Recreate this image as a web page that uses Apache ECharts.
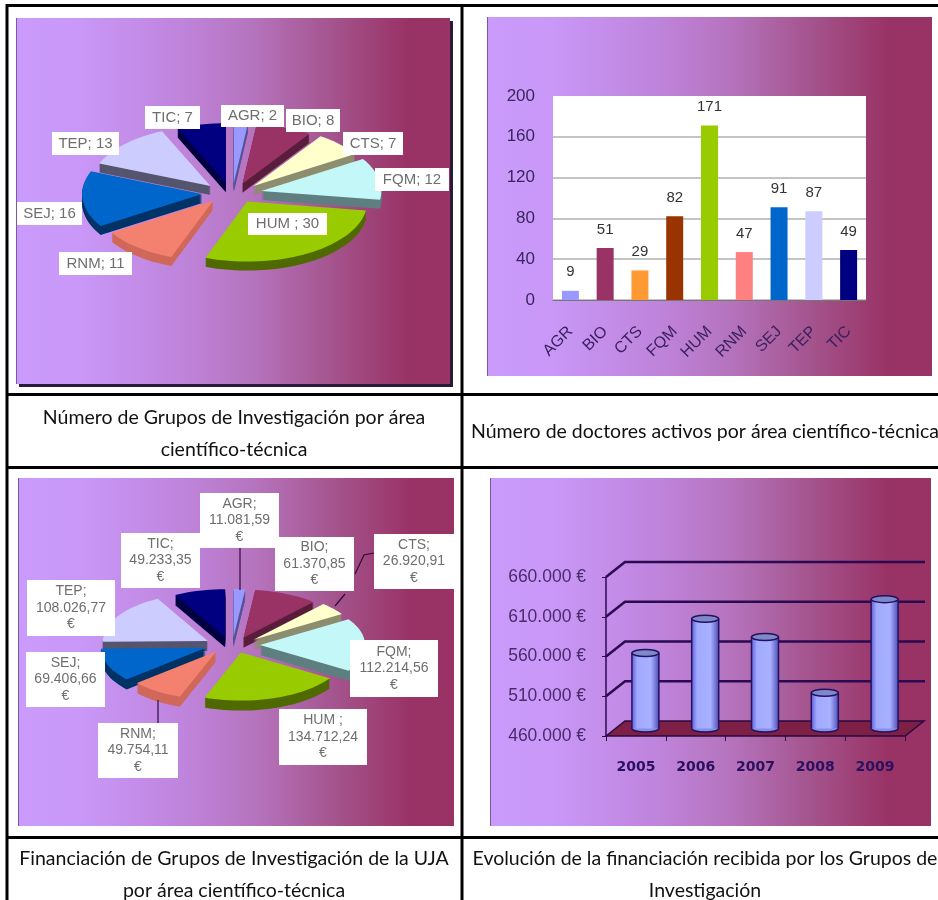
<!DOCTYPE html>
<html><head><meta charset="utf-8">
<style>html,body{margin:0;padding:0;background:#fff}#c{width:938px;height:900px}</style>
<script src="https://cdn.jsdelivr.net/npm/echarts@6/dist/echarts.min.js"></script>
</head><body><div id="c"></div>
<script>
// ---- data ----
const categories = ['AGR','BIO','CTS','FQM','HUM','RNM','SEJ','TEP','TIC'];
const groupCounts = [2,8,7,12,30,11,16,13,7];
const doctorCounts = [9,51,29,82,171,47,91,87,49];
const fundingEuros = [11081.59,61370.85,26920.91,112214.56,134712.24,49754.11,69406.66,108026.77,49233.35];
const years = ['2005','2006','2007','2008','2009'];
const yearlyFunding = [555000,598000,575000,505000,622700];
const fundingTicks = [460000,510000,560000,610000,660000];
const captions = [
  'Número de Grupos de Investigación por área\ncientífico-técnica',
  'Número de doctores activos por área científico-técnica',
  'Financiación de Grupos de Investigación de la UJA\npor área científico-técnica',
  'Evolución de la financiación recibida por los Grupos de\nInvestigación'
];

// ---- styles and layout ----
const pieTop = ['#9999FF','#993366','#FFFFCC','#C4F8F8','#99CC00','#F4806F','#0066CC','#CCCCFF','#000080'];
const pieSide = ['#55559a','#5a1e3c','#8d8d70','#5f7f80','#4f6a00','#d0685a','#003366','#55556f','#000040'];
const barColors = ['#9999FF','#993366','#FF9933','#993300','#99CC00','#FF8080','#0066CC','#CCCCFF','#000080'];
const panelStops = [[0,'#CA9BFC'],[.14,'#C998F8'],[.38,'#BF84DC'],[.55,'#B573BC'],[.72,'#A5558F'],[.9,'#993366'],[1,'#993366']];
const panels = [[16,18,434,366],[487,17,445,359],[18,478,436,348],[490,478,441,348]];
const pie1Geo = {cx:232,cy:193,rx:120,ry:60,ex:30,ey:10,depth:9};
const pie2Geo = {cx:232,cy:645,rx:105,ry:48,ex:28,ey:8,depth:10};
// label boxes as [x, y, width, height], in category order
const pie1Boxes = [[221,105,63,22],[286,109,54,23],[343,132,60,23],[375,168,74,23],[248,213,79,22],[59,252,73,23],[17,202,65,23],[52,132,67,23],[145,106,55,23]];
const pie2Boxes = [[200,493,79,55],[275,537,79,54],[374,534,80,55],[350,640,88,57],[279,709,88,56],[98,723,80,55],[26,652,79,55],[27,580,88,56],[121,533,79,55]];
const pie2Leaders = [[[240,548],[240,590]],[[374,553],[364,555],[355,574]],[[345,594],[335,606]],[[158,778],[158,700]]];
const captionPos = [[234,402],[705,416],[234,843],[705,843]];

function fmtEs(n){
  const [a,b] = n.toFixed(2).split('.');
  return a.replace(/\B(?=(\d{3})+$)/g,'.') + ',' + b;
}
function pieSeries(values, geo){
  const total = values.reduce((a,b)=>a+b,0);
  let run = 0;
  const spans = values.map(v=>{const s=run; run+=v; return [s/total*2*Math.PI, run/total*2*Math.PI];});
  return {
    type:'custom', coordinateSystem:'none', silent:true, animation:false, z:3,
    data: values.map((v,i)=>[i,v]),
    renderItem(params, api){
      const i = api.value(0);
      const [a0,a1] = spans[i];
      const mid = (a0+a1)/2;
      const tx = geo.cx + geo.ex*Math.sin(mid), ty = geo.cy - geo.ey*Math.cos(mid);
      const pts = [[tx,ty]];
      const steps = Math.max(3, Math.ceil((a1-a0)/0.05));
      for(let k=0;k<=steps;k++){
        const t = a0+(a1-a0)*k/steps;
        pts.push([tx+geo.rx*Math.sin(t), ty-geo.ry*Math.cos(t)]);
      }
      const z2 = Math.round(100*(1-Math.cos(mid)));
      const children = [];
      for(let d=geo.depth;d>=1;d--){
        children.push({type:'polygon', z2, shape:{points:pts.map(p=>[p[0],p[1]+d])}, style:{fill:pieSide[i]}});
      }
      children.push({type:'polygon', z2, shape:{points:pts}, style:{fill:pieTop[i]}});
      return {type:'group', children};
    }
  };
}
function labelSeries(values, boxes, textOf, leaders, fs){
  return {
    type:'custom', coordinateSystem:'none', silent:true, animation:false, z:5,
    data: values.map((v,i)=>[i,v]),
    renderItem(params, api){
      const i = api.value(0), b = boxes[i];
      const children = [];
      if(i===0 && leaders){
        leaders.forEach(l=>children.push({type:'polyline', shape:{points:l}, style:{stroke:'#2a0a40', lineWidth:1.2, fill:null}}));
      }
      children.push({type:'rect', shape:{x:b[0],y:b[1],width:b[2],height:b[3]}, style:{fill:'#fff'}});
      children.push({type:'text', style:{text:textOf(i,api.value(1)), x:b[0]+b[2]/2, y:b[1]+b[3]/2, align:'center', verticalAlign:'middle',
        fill:'#6e6e6e', font:fs+'px "Liberation Sans"', lineHeight:16.5}});
      return {type:'group', children};
    }
  };
}
const depthX = 19, depthY = 15, wallEndX = 925;
const wallSeries = {
  type:'custom', coordinateSystem:'cartesian2d', xAxisIndex:1, yAxisIndex:1, silent:true, animation:false, clip:false, z:2,
  data: fundingTicks.map(v=>[0,v]),
  renderItem(params, api){
    const r = params.coordSys;
    const y = api.coord([0, api.value(1)])[1];
    if(params.dataIndex===0){
      return {type:'polygon', shape:{points:[[r.x,y],[r.x+depthX,y-depthY],[r.x+r.width+depthX,y-depthY],[r.x+r.width,y]]},
        style:{fill:'#7E1F45', stroke:'#2a0a40', lineWidth:1.5}};
    }
    return {type:'polyline', shape:{points:[[r.x,y],[r.x+depthX,y-depthY],[wallEndX,y-depthY]]}, style:{stroke:'#2a0a50', lineWidth:2.5, fill:null}};
  }
};
const cylinderSeries = {
  type:'custom', coordinateSystem:'cartesian2d', xAxisIndex:1, yAxisIndex:1, silent:true, animation:false, clip:false, z:3,
  data: yearlyFunding.map((v,i)=>[i,v]),
  renderItem(params, api){
    const top = api.coord([api.value(0), api.value(1)]);
    const base = api.coord([api.value(0), fundingTicks[0]]);
    const cx = top[0]+depthX/2, ty = top[1]-depthY/2, by = base[1]-depthY/2, w = 13.5, e = 3.5;
    const edge = '#241060';
    const grad = {type:'linear',x:0,y:0,x2:1,y2:0,colorStops:[{offset:0,color:'#6060D8'},{offset:.2,color:'#A2AAFF'},{offset:.7,color:'#A8B0FF'},{offset:1,color:'#5050B8'}]};
    return {type:'group', children:[
      {type:'ellipse', shape:{cx,cy:by,rx:w,ry:e}, style:{fill:'#8890E8',stroke:edge,lineWidth:1.5}},
      {type:'rect', shape:{x:cx-w,y:ty,width:2*w,height:by-ty}, style:{fill:grad}},
      {type:'line', shape:{x1:cx-w,y1:ty,x2:cx-w,y2:by}, style:{stroke:edge,lineWidth:1.5}},
      {type:'line', shape:{x1:cx+w,y1:ty,x2:cx+w,y2:by}, style:{stroke:edge,lineWidth:1.5}},
      {type:'ellipse', shape:{cx,cy:ty,rx:w,ry:e}, style:{fill:'#7F88C8',stroke:edge,lineWidth:1.5}}
    ]};
  }
};
const panelFill = {type:'linear',x:0,y:0,x2:1,y2:0,colorStops:panelStops.map(s=>({offset:s[0],color:s[1]}))};
const elements = [];
elements.push({type:'rect', z:-2, shape:{x:19,y:21,width:434,height:366}, style:{fill:'#2a1a3a'}});
panels.forEach(p=>{
  elements.push({type:'rect', z:-1, shape:{x:p[0],y:p[1],width:p[2],height:p[3]}, style:{fill:panelFill}});
  elements.push({type:'line', z:-1, shape:{x1:p[0]+.5,y1:p[1],x2:p[0]+.5,y2:p[1]+p[3]}, style:{stroke:'#7a5a9a',lineWidth:1}});
});
[[7,4,7,900],[462,4,462,900],[6,5.5,938,5.5],[6,394.5,938,394.5],[6,467.5,938,467.5],[6,837.5,938,837.5]].forEach(l=>{
  elements.push({type:'line', z:-1, shape:{x1:l[0],y1:l[1],x2:l[2],y2:l[3]}, style:{stroke:'#000',lineWidth:3}});
});

const option = {
  animation:false,
  backgroundColor:'#fff',
  graphic:{elements},
  title: captions.map((t,i)=>({
    text:t, left:captionPos[i][0], top:captionPos[i][1], textAlign:'center', padding:0,
    textStyle:{fontFamily:'Lato', fontSize:19.5, fontWeight:'normal', color:'#111', lineHeight:32}
  })),
  grid:[
    {left:553, top:96, width:313, height:204, show:true, backgroundColor:'#fff', borderWidth:0},
    {left:606, top:577, width:299, height:159, show:false}
  ],
  xAxis:[
    {gridIndex:0, type:'category', data:categories, axisTick:{show:false}, axisLine:{lineStyle:{color:'#777'}},
     axisLabel:{rotate:45, margin:29, fontFamily:'Liberation Sans', fontSize:16, color:'#3a2060'}},
    {gridIndex:1, type:'category', data:years, axisLine:{show:false}, axisTick:{show:true, length:5, lineStyle:{color:'#2a0a40'}},
     axisLabel:{margin:24, fontFamily:'DejaVu Sans', fontWeight:'bold', fontSize:14, color:'#2b1060'}}
  ],
  yAxis:[
    {gridIndex:0, type:'value', min:0, max:200, interval:40, axisLine:{show:false}, axisTick:{show:false},
     splitLine:{showMaxLine:false, lineStyle:{color:'#b0b0b0',width:1.5}},
     axisLabel:{margin:18, fontFamily:'Liberation Sans', fontSize:17, color:'#3a2560'}},
    {gridIndex:1, type:'value', min:fundingTicks[0], max:fundingTicks[fundingTicks.length-1], splitLine:{show:false},
     axisLine:{show:true, lineStyle:{color:'#2a0a50',width:1.5}},
     axisTick:{show:true, length:4, customValues:fundingTicks, lineStyle:{color:'#2a0a50'}},
     axisLabel:{margin:20, customValues:fundingTicks, fontFamily:'Liberation Sans', fontSize:17.5, color:'#4a2a6a',
       formatter:v=>String(v).replace(/\B(?=(\d{3})+$)/g,'.')+' €'}}
  ],
  series:[
    pieSeries(groupCounts, pie1Geo),
    labelSeries(groupCounts, pie1Boxes, (i,v)=>categories[i]+(categories[i]==='HUM'?' ; ':'; ')+v, null, 15),
    pieSeries(fundingEuros, pie2Geo),
    labelSeries(fundingEuros, pie2Boxes, (i,v)=>categories[i]+(categories[i]==='HUM'?' ;':';')+'\n'+fmtEs(v)+'\n€', pie2Leaders, 14),
    {type:'bar', xAxisIndex:0, yAxisIndex:0, barWidth:17, z:3,
     data:doctorCounts.map((v,i)=>({value:v,itemStyle:{color:barColors[i]}})),
     label:{show:true, position:'top', distance:11, fontFamily:'Liberation Sans', fontSize:15, color:'#333'}},
    wallSeries,
    cylinderSeries
  ]
};
const chart = echarts.init(document.getElementById('c'),null,{renderer:'canvas',width:938,height:900});
chart.setOption(option);
</script></body></html>
